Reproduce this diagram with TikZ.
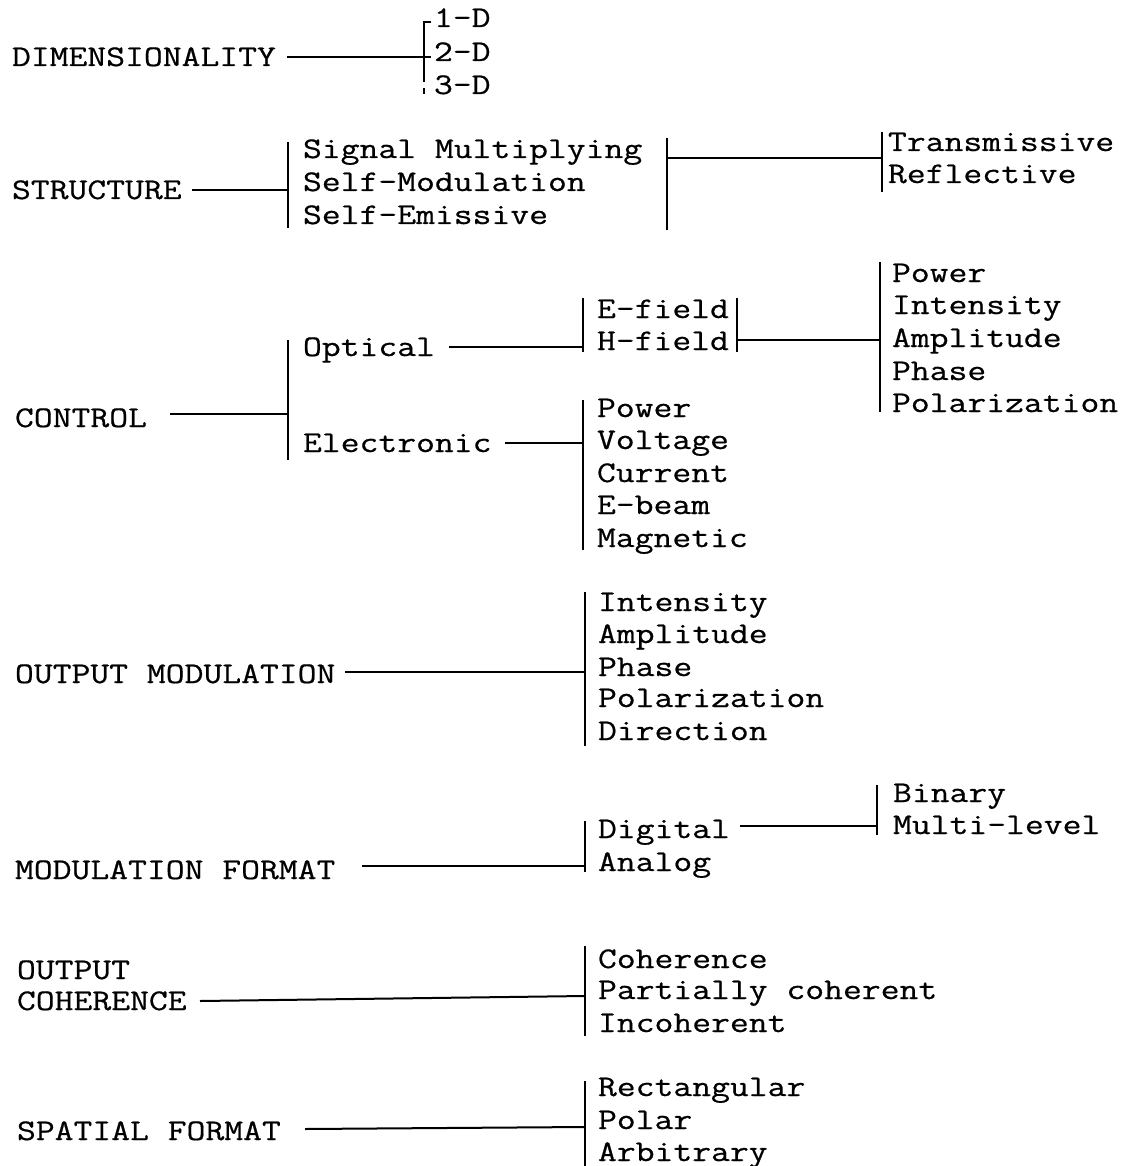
\documentclass[tikz,border=0pt]{standalone}
\usepackage{fontspec}
\setmainfont{Latin Modern Mono}[FakeStretch=1.22,FakeBold=0.6]
\begin{document}
\begin{tikzpicture}[x=1pt,y=-1pt,
  lbl/.style={anchor=base west,inner sep=0pt,outer sep=0pt,font=\fontsize{30}{32}\selectfont},
  ln/.style={line width=2pt,line cap=butt}]
\useasboundingbox (0,0) rectangle (1132,1166);
% ---------------- DIMENSIONALITY
\node[lbl] (dim) at (12,66) {DIMENSIONALITY};
\node[lbl] (d1) at (434,27) {1-D};
\node[lbl] (d2) at (434,61) {2-D};
\node[lbl] (d3) at (434,94) {3-D};
\coordinate (dimA) at (287,57);
\coordinate (dimB) at (431,57);
\coordinate (dimH) at (431,22);
\coordinate (dimT) at (424,22);
\coordinate (dimM) at (424,82);
\coordinate (dimS) at (424,88);
\coordinate (dimE) at (424,94);
\draw[ln] (dimA) -- (dimB);
\draw[ln] (dimH) -- (dimT) -- (dimM);
\draw[ln] (dimS) -- (dimE);
% ---------------- STRUCTURE
\node[lbl] (str) at (12,199) {STRUCTURE};
\node[lbl] (s1) at (303,158) {Signal Multiplying};
\node[lbl] (s2) at (303,191) {Self-Modulation};
\node[lbl] (s3) at (303,224) {Self-Emissive};
\node[lbl] (s4) at (888,151) {Transmissive};
\node[lbl] (s5) at (888,183) {Reflective};
\coordinate (strA) at (192,190);
\coordinate (strB) at (288,190);
\coordinate (strT) at (288,142);
\coordinate (strE) at (288,228);
\coordinate (strT2) at (667,138);
\coordinate (strE2) at (667,230);
\coordinate (strC) at (667,158);
\coordinate (strD) at (882,158);
\coordinate (strT3) at (882,132);
\coordinate (strE3) at (882,192);
\draw[ln] (strA) -- (strB);
\draw[ln] (strT) -- (strE);
\draw[ln] (strT2) -- (strE2);
\draw[ln] (strC) -- (strD);
\draw[ln] (strT3) -- (strE3);
% ---------------- CONTROL
\node[lbl] (ctl) at (15,427) {CONTROL};
\node[lbl] (opt) at (303,356) {Optical};
\node[lbl] (ele) at (303,452) {Electronic};
\node[lbl] (ef) at (597,318) {E-field};
\node[lbl] (hf) at (597,350) {H-field};
\node[lbl] (op1) at (892,282) {Power};
\node[lbl] (op2) at (892,314) {Intensity};
\node[lbl] (op3) at (892,347) {Amplitude};
\node[lbl] (op4) at (892,380) {Phase};
\node[lbl] (op5) at (892,412) {Polarization};
\node[lbl] (el1) at (597,417) {Power};
\node[lbl] (el2) at (597,449) {Voltage};
\node[lbl] (el3) at (597,482) {Current};
\node[lbl] (el4) at (597,514) {E-beam};
\node[lbl] (el5) at (597,547) {Magnetic};
\coordinate (ctlA) at (170,414);
\coordinate (ctlB) at (288,414);
\coordinate (ctlT) at (288,340);
\coordinate (ctlE) at (288,460);
\coordinate (optA) at (449,347);
\coordinate (optB) at (583,347);
\coordinate (optT) at (583,298);
\coordinate (optE) at (583,352);
\coordinate (fldT) at (737,298);
\coordinate (fldE) at (737,352);
\coordinate (fldA) at (737,340);
\coordinate (fldB) at (880,340);
\coordinate (pwT) at (880,262);
\coordinate (pwE) at (880,412);
\coordinate (eleA) at (505,443);
\coordinate (eleB) at (583,443);
\coordinate (eleT) at (583,400);
\coordinate (eleE) at (583,550);
\draw[ln] (ctlA) -- (ctlB);
\draw[ln] (ctlT) -- (ctlE);
\draw[ln] (optA) -- (optB);
\draw[ln] (optT) -- (optE);
\draw[ln] (fldT) -- (fldE);
\draw[ln] (fldA) -- (fldB);
\draw[ln] (pwT) -- (pwE);
\draw[ln] (eleA) -- (eleB);
\draw[ln] (eleT) -- (eleE);
% ---------------- OUTPUT MODULATION
\node[lbl] (om) at (15,683) {OUTPUT MODULATION};
\node[lbl] (om1) at (598,611) {Intensity};
\node[lbl] (om2) at (598,643) {Amplitude};
\node[lbl] (om3) at (598,676) {Phase};
\node[lbl] (om4) at (598,707) {Polarization};
\node[lbl] (om5) at (598,740) {Direction};
\coordinate (omA) at (345,672);
\coordinate (omB) at (585,672);
\coordinate (omT) at (585,592);
\coordinate (omE) at (585,746);
\draw[ln] (omA) -- (omB);
\draw[ln] (omT) -- (omE);
% ---------------- MODULATION FORMAT
\node[lbl] (mf) at (15,879) {MODULATION FORMAT};
\node[lbl] (dig) at (598,838) {Digital};
\node[lbl] (ana) at (598,871) {Analog};
\node[lbl] (bin) at (893,802) {Binary};
\node[lbl] (mul) at (893,834) {Multi-level};
\coordinate (mfA) at (362,866);
\coordinate (mfB) at (585,866);
\coordinate (mfT) at (585,821);
\coordinate (mfE) at (585,872);
\coordinate (digA) at (740,826);
\coordinate (digB) at (877,826);
\coordinate (digT) at (877,785);
\coordinate (digE) at (877,835);
\draw[ln] (mfA) -- (mfB);
\draw[ln] (mfT) -- (mfE);
\draw[ln] (digA) -- (digB);
\draw[ln] (digT) -- (digE);
% ---------------- OUTPUT COHERENCE
\node[lbl] (oc1) at (17,979) {OUTPUT};
\node[lbl] (oc2) at (17,1010) {COHERENCE};
\node[lbl] (co1) at (598,968) {Coherence};
\node[lbl] (co2) at (598,999) {Partially coherent};
\node[lbl] (co3) at (598,1032) {Incoherent};
\coordinate (ocA) at (200,1001);
\coordinate (ocB) at (585,996);
\coordinate (ocT) at (585,946);
\coordinate (ocE) at (585,1036);
\draw[ln] (ocA) -- (ocB);
\draw[ln] (ocT) -- (ocE);
% ---------------- SPATIAL FORMAT
\node[lbl] (sf) at (17,1140) {SPATIAL FORMAT};
\node[lbl] (sp1) at (598,1096) {Rectangular};
\node[lbl] (sp2) at (598,1129) {Polar};
\node[lbl] (sp3) at (598,1161) {Arbitrary};
\coordinate (sfA) at (305,1129);
\coordinate (sfB) at (585,1127);
\coordinate (sfT) at (585,1081);
\coordinate (sfE) at (585,1166);
\draw[ln] (sfA) -- (sfB);
\draw[ln] (sfT) -- (sfE);
\end{tikzpicture}
\end{document}
